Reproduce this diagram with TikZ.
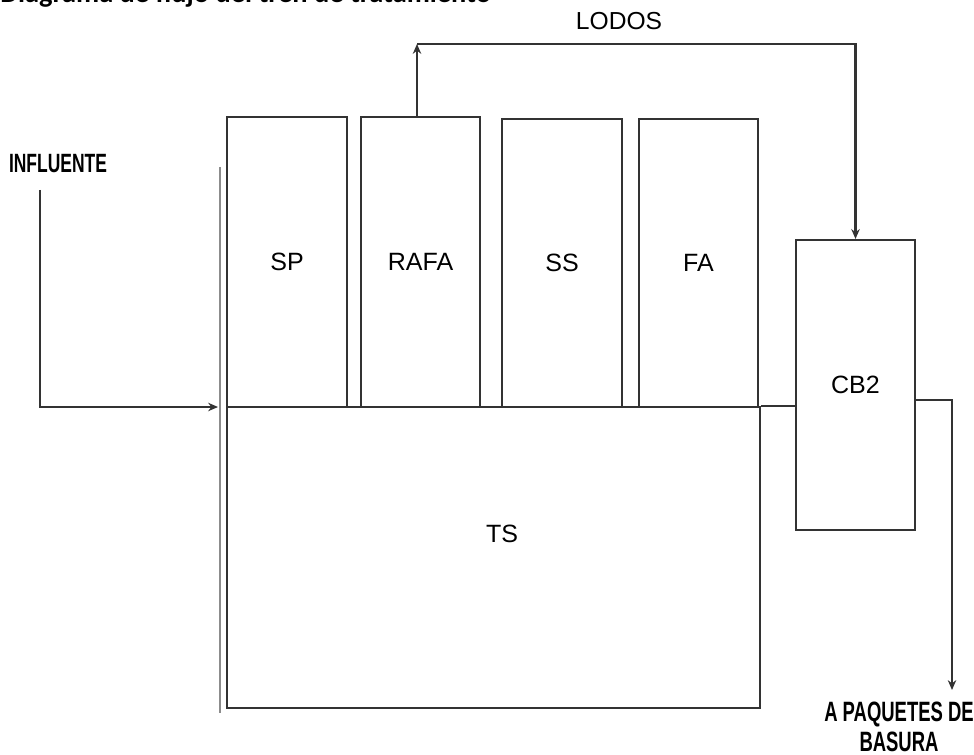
\documentclass[tikz,border=0pt]{standalone}
\usepackage{fontspec}
\usetikzlibrary{arrows.meta}
\setmainfont{Liberation Sans}
\newfontfamily\titlefont{Carlito}
\newcommand{\narrowtext}[1]{\scalebox{0.66}[1]{#1}}
\begin{document}
\begin{tikzpicture}
[x=0.025cm,y=-0.025cm,
  boxdecorate/.style={shape=rectangle,draw=black!80,line width=1.5pt,inner sep=0pt,font=\fontsize{17.8}{20}\selectfont},
  textdecorate/.style={inner sep=0pt,font=\fontsize{17.8}{20}\selectfont},
  linedecorate/.style={draw=black!80,line width=1.5pt},
  arrowdecorate/.style={-{Stealth[length=7pt,width=6pt]},draw=black!80,line width=1.5pt}]
\useasboundingbox (0,0) rectangle (974,755);
% title
\node (title) at (0,3) [anchor=base west,inner sep=0pt,font=\titlefont\bfseries\fontsize{20.2}{22}\selectfont] {Diagrama de flujo del tren de tratamiento};
% units
\node (sp) at (287,262) [boxdecorate,minimum width=120*0.025cm,minimum height=290*0.025cm] {SP};
\node (rafa) at (420.5,262) [boxdecorate,minimum width=119*0.025cm,minimum height=290*0.025cm] {RAFA};
\node (ss) at (562,263) [boxdecorate,minimum width=120*0.025cm,minimum height=288*0.025cm] {SS};
\node (fa) at (698.5,263) [boxdecorate,minimum width=119*0.025cm,minimum height=288*0.025cm] {FA};
\node (ts) at (493.5,557.5) [boxdecorate,minimum width=533*0.025cm,minimum height=301*0.025cm] {};
\node (tslabel) at (502,534) [textdecorate] {TS};
\node (cb2) at (855.5,385) [boxdecorate,minimum width=119*0.025cm,minimum height=290*0.025cm] {CB2};
% labels
\node (influente) at (58,164) [textdecorate,font=\bfseries\fontsize{18.8}{20}\selectfont] {\narrowtext{INFLUENTE}};
\node (lodoslabel) at (619,21) [textdecorate,font=\fontsize{17.5}{20}\selectfont] {LODOS};
\node (trash) at (899,727) [textdecorate,align=center,font=\bfseries\fontsize{19.9}{21.3}\selectfont] {\narrowtext{A PAQUETES DE}\\\narrowtext{BASURA}};
% points
\coordinate (wallt) at (220,167);
\coordinate (wallb) at (220,713);
\coordinate (infl) at (40,190);
\coordinate (inlet) at (218,407);
\coordinate (lodos) at (417,44);
\coordinate (cbout) at (915,400);
\coordinate (trashin) at (952,690);
% lines
\draw[draw=black!45,line width=1.5pt] (wallt) -- (wallb);
\draw[linedecorate] (ts.north east) -- (cb2.west |- ts.north east);
\draw[arrowdecorate] (infl) |- (inlet);
\draw[arrowdecorate] (rafa.north -| lodos) -- (lodos);
\draw[arrowdecorate] (lodos) -| (cb2.north);
\draw[arrowdecorate] (cbout) -| (trashin);
\end{tikzpicture}
\end{document}
